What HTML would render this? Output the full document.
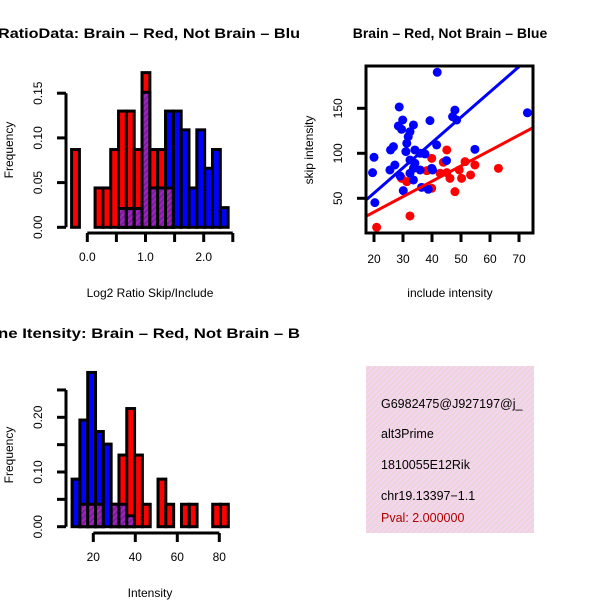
<!DOCTYPE html>
<html><head><meta charset="utf-8"><style>
html,body{margin:0;padding:0;background:#fff}
svg{display:block;font-family:"Liberation Sans",sans-serif}
</style></head><body>
<svg id="chart" width="600" height="600" viewBox="0 0 600 600">
<defs>
<pattern id="hatch" width="4" height="4" patternUnits="userSpaceOnUse" patternTransform="rotate(45)">
<rect width="4" height="4" fill="#a020c0"/><rect width="1.5" height="4" fill="#702090"/></pattern>
<pattern id="pinkhatch" width="4" height="4" patternUnits="userSpaceOnUse" patternTransform="rotate(45)">
<rect width="4" height="4" fill="#f7d3f0"/><rect width="1.3" height="4" fill="#e2d8d0"/></pattern>
<clipPath id="scClip"><rect x="366" y="66" width="167" height="167"/></clipPath>
</defs>
<text x="-2" y="38" font-size="14" font-weight="bold" textLength="302" lengthAdjust="spacingAndGlyphs">RatioData: Brain – Red, Not Brain – Blu</text>
<text x="450" y="38" font-size="14" font-weight="bold" text-anchor="middle">Brain – Red, Not Brain – Blue</text>
<text x="-2" y="338" font-size="14" font-weight="bold" textLength="302" lengthAdjust="spacingAndGlyphs">ne Itensity: Brain – Red, Not Brain – B</text>
<g id="g1"></g>
<g id="g2"></g>
<g id="g3"></g>
<g>
<rect x="366" y="366" width="168" height="167" fill="url(#pinkhatch)"/>
<text x="381" y="408" font-size="12.5">G6982475@J927197@j_</text>
<text x="381" y="438" font-size="12.5">alt3Prime</text>
<text x="381" y="469" font-size="12.5">1810055E12Rik</text>
<text x="381" y="500" font-size="12.5">chr19.13397−1.1</text>
<text x="381" y="522" font-size="12.5" fill="#b00000">Pval: 2.000000</text>
</g>
</svg>
<script>
// Ratio histogram data
const ratioBinStart = -0.27;
const ratioBinWidth = 0.1345;
const ratioRed = [0.087,0,0,0.044,0.044,0.087,0.13,0.13,0.087,0.173,0.087,0.087,0.044,0,0,0,0,0,0,0];
const ratioBlue = [0,0,0,0,0,0,0.021,0.021,0.021,0.151,0.044,0.044,0.13,0.13,0.109,0.044,0.109,0.066,0.087,0.022];
const ratioYTicks = [0,0.05,0.10,0.15];
const ratioYLabels = ["0.00","0.05","0.10","0.15"];
const ratioXTicks = [0,0.5,1,1.5,2,2.5];
const ratioXLabels = ["0.0","","1.0","","2.0",""];
// Intensity histogram data
const intBinStart = 9.9;
const intBinWidth = 3.72;
const intRed = [0,0.041,0.041,0.041,0,0.041,0.131,0.216,0.131,0.041,0,0.087,0.041,0,0.041,0.041,0,0,0.041,0.041];
const intBlue = [0.087,0.195,0.282,0.174,0.151,0.041,0.041,0.02,0,0,0,0,0,0,0,0,0,0,0,0];
const intYTicks = [0,0.05,0.10,0.15,0.20,0.25];
const intYLabels = ["0.00","","0.10","","0.20",""];
const intXTicks = [20,40,60,80];
const intXLabels = ["20","40","60","80"];
// Scatter data
const blueX = [41.8,28.7,47.9,72.9,39.3,29.9,28.4,33.6,29.5,47.1,48.5,31.8,32.4,26.7,25.7,31,34.1,35.9,32.4,37.6,20,27.2,25.5,29,33.6,35.9,39.9,40.2,45,19.5,33.6,30.1,36.4,38.7,20.3,54.8,41.6,31.3,34.1,32.4];
const blueY = [190,151.5,148,145,136.3,137,130.4,131.5,126.7,140.7,137,118.5,124,107.4,103.7,101.9,103.7,100,92.6,99.3,95.6,87,81.5,74.8,83.3,81.5,83.3,81.5,91.9,78.5,70.4,58.5,62.2,60,45.2,104.4,109.3,111.1,88.9,77.8];
const redX = [20.9,32.4,47.9,45.1,39.9,38.2,43.9,45.1,46.2,50.2,51.4,53.3,54.8,62.9,49.4,39.9,29.5,31.3,42.8];
const redY = [17.8,30.4,57.4,103.7,94.4,80.7,90,78.5,72.2,72.2,90.7,75.9,87,83.3,81.5,61.1,72.2,68.5,77.8];
const blueFit = [-0.4,2.81];
const redFit = [0.5,1.71];
const scXTicks = [20,30,40,50,60,70];
const scYTicks = [50,100,150];

const NS="http://www.w3.org/2000/svg";
function mk(parent,tag,attrs){const e=document.createElementNS(NS,tag);for(const k in attrs)e.setAttribute(k,attrs[k]);parent.appendChild(e);return e;}

function hist(g,o){
  const sx=v=>o.x0+(v-o.xv0)*o.xs, sy=v=>o.y0-v*o.ys;
  for(let i=0;i<o.red.length;i++){
    const r=o.red[i],b=o.blue[i];
    const x1=sx(o.bs+i*o.bw),x2=sx(o.bs+(i+1)*o.bw);
    const hi=Math.max(r,b),lo=Math.min(r,b);
    if(hi>0){
      const e=mk(g,'rect',{x:x1,y:sy(hi),width:x2-x1,height:sy(0)-sy(hi),fill:r>=b?'#ff0000':'#0000ff',stroke:'#000','stroke-width':3});
      
      
    }
    if(lo>0){
      const e=mk(g,'rect',{x:x1,y:sy(lo),width:x2-x1,height:sy(0)-sy(lo),fill:'url(#hatch)',stroke:'#000','stroke-width':3});
      
      
    }
  }
  const ya=mk(g,'g',{});
  
  
  mk(ya,'line',{x1:o.yax,x2:o.yax,y1:sy(o.yt[0]),y2:sy(o.yt[o.yt.length-1]),stroke:'#000','stroke-width':3});
  o.yt.forEach((t,i)=>{mk(ya,'line',{x1:o.yax-9,x2:o.yax,y1:sy(t),y2:sy(t),stroke:'#000','stroke-width':3});
    if(o.yl[i]){const tx=mk(ya,'text',{x:42,y:sy(t),'font-size':12,'text-anchor':'middle',transform:`rotate(-90 42 ${sy(t)})`});tx.textContent=o.yl[i];
      
      }});
  const yt=mk(ya,'text',{x:13,y:o.ymid,'font-size':12,'text-anchor':'middle',transform:`rotate(-90 13 ${o.ymid})`});yt.textContent='Frequency';
  
  
  const xa=mk(g,'g',{});
  
  
  mk(xa,'line',{x1:sx(o.xt[0]),x2:sx(o.xt[o.xt.length-1]),y1:o.xay,y2:o.xay,stroke:'#000','stroke-width':3});
  o.xt.forEach((t,i)=>{mk(xa,'line',{x1:sx(t),x2:sx(t),y1:o.xay,y2:o.xay+9,stroke:'#000','stroke-width':3});
    if(o.xl[i]){const tx=mk(xa,'text',{x:sx(t),y:o.xay+28,'font-size':12,'text-anchor':'middle'});tx.textContent=o.xl[i];
      
      }});
  const xt=mk(xa,'text',{x:150,y:o.xtitle,'font-size':12,'text-anchor':'middle'});xt.textContent=o.xname;
  
  
}
hist(document.getElementById('g1'),{red:ratioRed,blue:ratioBlue,bs:ratioBinStart,bw:ratioBinWidth,x0:87.3,xv0:0,xs:58.2,y0:227.3,ys:894,
  yt:ratioYTicks,yl:ratioYLabels,xt:ratioXTicks,xl:ratioXLabels,yax:66,xay:233,ymid:150,xtitle:297,xname:'Log2 Ratio Skip/Include'});
hist(document.getElementById('g3'),{red:intRed,blue:intBlue,bs:intBinStart,bw:intBinWidth,x0:93.3,xv0:20,xs:2.1,y0:526.7,ys:547,
  yt:intYTicks,yl:intYLabels,xt:intXTicks,xl:intXLabels,yax:66,xay:533,ymid:455,xtitle:597,xname:'Intensity'});

const g2=document.getElementById('g2');
const sx=v=>374+(v-20)*2.9, sy=v=>198.3-(v-50)*0.9;
const cg=mk(g2,'g',{'clip-path':'url(#scClip)'});
redX.forEach((x,i)=>{const c=mk(cg,'circle',{cx:sx(x),cy:sy(redY[i]),r:4.5,fill:'#ff0000'});
  
  });
blueX.forEach((x,i)=>{const c=mk(cg,'circle',{cx:sx(x),cy:sy(blueY[i]),r:4.5,fill:'#0000ff'});
  
  });
[[blueFit,'#0000ff','blue-fit-line'],[redFit,'#ff0000','red-fit-line']].forEach(([f,col,nm])=>{
  const l=mk(cg,'line',{x1:sx(15),y1:sy(f[0]+f[1]*15),x2:sx(80),y2:sy(f[0]+f[1]*80),stroke:col,'stroke-width':3});
  
  });
const box=mk(g2,'rect',{x:366,y:66,width:167,height:167,fill:'none',stroke:'#000','stroke-width':3});


scXTicks.forEach(t=>{mk(g2,'line',{x1:sx(t),x2:sx(t),y1:233,y2:242,stroke:'#000','stroke-width':3});
  const tx=mk(g2,'text',{x:sx(t),y:263,'font-size':12,'text-anchor':'middle'});tx.textContent=t;
  
  });
scYTicks.forEach(t=>{mk(g2,'line',{x1:357,x2:366,y1:sy(t),y2:sy(t),stroke:'#000','stroke-width':3});
  const tx=mk(g2,'text',{x:342,y:sy(t),'font-size':12,'text-anchor':'middle',transform:`rotate(-90 342 ${sy(t)})`});tx.textContent=t;
  
  });
const sxt=mk(g2,'text',{x:450,y:297,'font-size':12,'text-anchor':'middle'});sxt.textContent='include intensity';


const syt=mk(g2,'text',{x:313,y:150,'font-size':12,'text-anchor':'middle',transform:'rotate(-90 313 150)'});syt.textContent='skip intensity';


</script>
</body></html>
